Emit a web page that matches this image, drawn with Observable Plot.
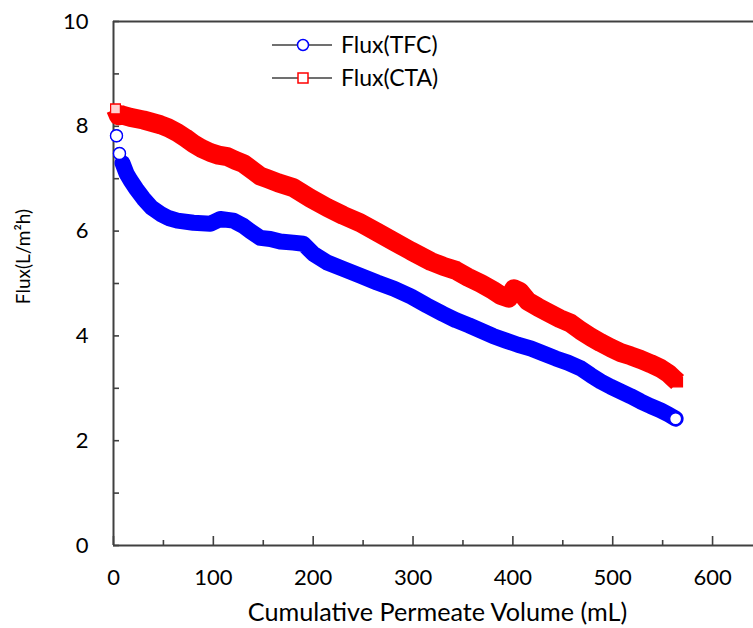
<!DOCTYPE html>
<html>
<head>
<meta charset="utf-8">
<script src="https://cdn.jsdelivr.net/npm/d3@7"></script>
<script src="https://cdn.jsdelivr.net/npm/@observablehq/plot@0.6"></script>
<style>
  html, body { margin: 0; padding: 0; background: #fff; }
  #chart { position: relative; width: 753px; height: 628px; }
</style>
</head>
<body>
<div id="chart"></div>
<script>
// ---- data ----
const seriesNames = ["Flux(TFC)", "Flux(CTA)"];
const seriesColors = ["#0000ff", "#ff0000"];

const volTFC = [3, 6, 9, 13, 17, 23, 30, 38, 47, 55, 64, 80, 97, 107, 120, 130, 137, 147, 157, 167, 180, 190, 200, 214, 230, 247, 264, 281, 298, 314, 330, 343, 356, 368, 380, 393, 405, 418, 430, 443, 455, 468, 478, 488, 498, 508, 518, 528, 538, 548, 556, 563];
const fluxTFC = [7.82, 7.48, 7.3, 7.1, 6.97, 6.8, 6.62, 6.45, 6.33, 6.25, 6.2, 6.16, 6.14, 6.23, 6.2, 6.1, 6.0, 5.87, 5.85, 5.8, 5.78, 5.76, 5.57, 5.4, 5.28, 5.15, 5.02, 4.9, 4.75, 4.58, 4.42, 4.3, 4.2, 4.1, 4.0, 3.91, 3.83, 3.76, 3.67, 3.57, 3.49, 3.38, 3.25, 3.13, 3.03, 2.94, 2.85, 2.75, 2.66, 2.58, 2.5, 2.42];

const volCTA = [2, 5, 8, 17, 30, 47, 55, 64, 72, 80, 88, 97, 105, 114, 122, 130, 140, 147, 154, 165, 180, 197, 214, 230, 247, 264, 281, 298, 318, 330, 343, 355, 368, 380, 388, 396, 401, 407, 415, 425, 435, 447, 458, 468, 478, 488, 498, 508, 518, 528, 538, 548, 556, 561, 565];
const fluxCTA = [8.33, 8.2, 8.22, 8.17, 8.12, 8.03, 7.97, 7.88, 7.78, 7.67, 7.58, 7.5, 7.45, 7.42, 7.35, 7.29, 7.15, 7.05, 7.0, 6.92, 6.83, 6.63, 6.45, 6.3, 6.16, 5.98, 5.8, 5.62, 5.42, 5.33, 5.25, 5.12, 5.0, 4.87, 4.77, 4.72, 4.9, 4.85, 4.66, 4.55, 4.45, 4.33, 4.24, 4.1, 3.98, 3.87, 3.77, 3.68, 3.62, 3.55, 3.47, 3.38, 3.28, 3.19, 3.12];

const xMajor = [0, 100, 200, 300, 400, 500, 600];
const xMinor = [50, 150, 250, 350, 450, 550];
const yMajor = [0, 2, 4, 6, 8, 10];
const yMinor = [1, 3, 5, 7, 9];
const xTitle = "Cumulative Permeate Volume (mL)";
const yTitle = "Flux(L/m\u00B2h)";

// ---- tables ----
const tfc = volTFC.map((v, i) => ({v, f: fluxTFC[i]}));
const cta = volCTA.map((v, i) => ({v, f: fluxCTA[i]}));
const tfcBand = tfc.filter(d => d.v >= 9);
const tfcOpen = tfc.filter((d, i) => i < 2 || i === tfc.length - 1);
const ctaOpen = cta.filter((d, i) => i === 0);

const axisColor = "#404040";
const font = "Lato, 'Open Sans', sans-serif";

const plot = Plot.plot({
  width: 753,
  height: 628,
  marginTop: 21,
  marginBottom: 83,
  marginLeft: 113,
  marginRight: 0,
  style: {fontFamily: font, color: "#000", background: "#fff"},
  x: {domain: [0, 641]},
  y: {domain: [0, 10]},
  marks: [
    // frame lines
    Plot.ruleY([0, 10], {stroke: axisColor, strokeWidth: 2}),
    Plot.ruleX([0], {stroke: axisColor, strokeWidth: 2}),
    // inward ticks
    Plot.axisX(xMajor, {tickSize: -9, tickFormat: () => "", stroke: axisColor, strokeWidth: 1.6, label: null}),
    Plot.axisX(xMinor, {tickSize: -5, tickFormat: () => "", stroke: axisColor, strokeWidth: 1.6, label: null}),
    Plot.axisY(yMajor, {tickSize: -6, tickFormat: () => "", stroke: axisColor, strokeWidth: 1.6, label: null}),
    Plot.axisY(yMinor, {tickSize: -6, tickFormat: () => "", stroke: axisColor, strokeWidth: 1.6, label: null}),
    // tick labels
    Plot.axisX(xMajor, {tickSize: 0, tickPadding: 24, fontSize: 22, fill: "#000", label: null, tickFormat: d => String(d)}),
    Plot.axisY(yMajor, {tickSize: 0, tickPadding: 25, fontSize: 22, fill: "#000", label: null, tickFormat: d => String(d)}),
    // axis titles
    Plot.text([xTitle], {frameAnchor: "bottom", dy: 67, lineAnchor: "middle", textAnchor: "middle", dx: 4, fontSize: 25.2, fill: "#000", text: d => d}),
    Plot.text([yTitle], {frameAnchor: "left", rotate: -90, textAnchor: "middle", lineAnchor: "middle", dx: -90, dy: -27, fontSize: 19, fill: "#000", text: d => d}),
    // CTA series
    Plot.line(cta, {x: "v", y: "f", stroke: seriesColors[1], strokeWidth: 19, strokeLinejoin: "round", strokeLinecap: "butt"}),
    Plot.dot(cta, {x: "v", y: "f", symbol: "square", r: 5.5, stroke: seriesColors[1], fill: seriesColors[1], strokeWidth: 1.2}),
    Plot.dot(ctaOpen, {x: "v", y: "f", symbol: "square", r: 5.5, stroke: seriesColors[1], fill: "#ffd0d0", strokeWidth: 1.2}),
    // TFC series
    Plot.line(tfcBand, {x: "v", y: "f", stroke: seriesColors[0], strokeWidth: 16, strokeLinejoin: "round", strokeLinecap: "round"}),
    Plot.dot(tfc, {x: "v", y: "f", r: 6, stroke: seriesColors[0], strokeWidth: 1.2}),
    Plot.dot(tfcOpen, {x: "v", y: "f", r: 6, stroke: seriesColors[0], fill: "#fff", strokeWidth: 1.4})
  ]
});

document.getElementById("chart").appendChild(plot);

// ---- legend (inside the plot area, top) ----
const svg = d3.select(plot);
const lg = svg.append("g").attr("font-family", font).attr("font-size", 23).attr("text-anchor", "start");
seriesNames.forEach((name, i) => {
  const y = 45 + i * 33;
  const row = lg.append("g").attr("transform", `translate(0,${y})`);
  row.append("line").attr("x1", 272).attr("x2", 332).attr("y1", 0).attr("y2", 0)
    .attr("stroke", axisColor).attr("stroke-width", 1.6);
  if (i === 0) {
    row.append("circle").attr("cx", 303).attr("cy", 0).attr("r", 5.5)
      .attr("fill", "#fff").attr("stroke", seriesColors[0]).attr("stroke-width", 1.5);
  } else {
    row.append("rect").attr("x", 298).attr("y", -5).attr("width", 10).attr("height", 10)
      .attr("fill", "#fff").attr("stroke", seriesColors[1]).attr("stroke-width", 1.5);
  }
  row.append("text").attr("x", 341).attr("y", 0).attr("dy", "0.35em")
    .attr("text-anchor", "start").attr("fill", "#000").text(name);
});
</script>
</body>
</html>
